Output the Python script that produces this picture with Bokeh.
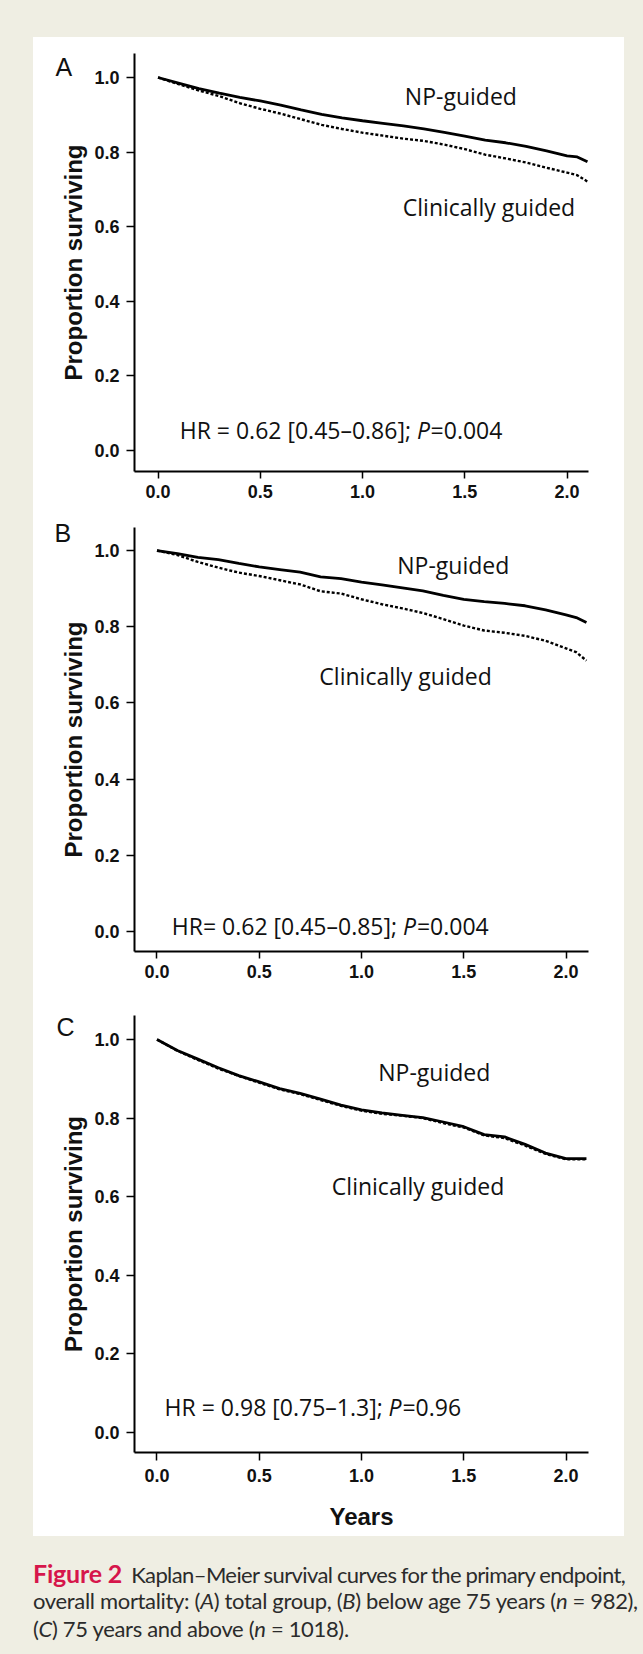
from bokeh.plotting import figure
from bokeh.layouts import column, row
from bokeh.models import Div, Label, FixedTicker, Range1d, Title
from bokeh.embed import file_html
from bokeh.resources import INLINE

# ---------------- data ----------------
years = [0.0, 0.1, 0.2, 0.3, 0.4, 0.5, 0.6, 0.7, 0.8, 0.9, 1.0, 1.1, 1.2,
         1.3, 1.4, 1.5, 1.6, 1.7, 1.8, 1.9, 2.0, 2.05, 2.1]

a_np = [1.000, 0.985, 0.970, 0.958, 0.947, 0.937, 0.926, 0.913, 0.901, 0.892, 0.884, 0.877,
        0.870, 0.862, 0.853, 0.843, 0.832, 0.825, 0.815, 0.803, 0.790, 0.787, 0.774]
a_clin = [1.000, 0.982, 0.965, 0.950, 0.931, 0.916, 0.903, 0.888, 0.873, 0.862, 0.852, 0.844,
          0.836, 0.830, 0.820, 0.808, 0.793, 0.783, 0.772, 0.758, 0.745, 0.738, 0.721]

b_np = [1.000, 0.992, 0.982, 0.976, 0.966, 0.957, 0.950, 0.943, 0.931, 0.926, 0.917, 0.910,
        0.902, 0.894, 0.882, 0.872, 0.866, 0.861, 0.855, 0.844, 0.831, 0.824, 0.811]
b_clin = [1.000, 0.988, 0.970, 0.955, 0.942, 0.933, 0.922, 0.911, 0.893, 0.887, 0.872, 0.859,
          0.848, 0.836, 0.820, 0.803, 0.790, 0.784, 0.776, 0.763, 0.743, 0.733, 0.711]

c_np = [1.000, 0.972, 0.950, 0.928, 0.908, 0.892, 0.875, 0.863, 0.848, 0.833, 0.821, 0.813,
        0.807, 0.801, 0.790, 0.778, 0.758, 0.752, 0.733, 0.711, 0.697, 0.697, 0.697]
c_clin = [1.000, 0.971, 0.948, 0.926, 0.907, 0.890, 0.873, 0.861, 0.846, 0.831, 0.819, 0.811,
          0.806, 0.800, 0.787, 0.776, 0.756, 0.749, 0.730, 0.709, 0.695, 0.695, 0.695]

x_ticks = [0.0, 0.5, 1.0, 1.5, 2.0]
x_tick_labels = ["0.0", "0.5", "1.0", "1.5", "2.0"]
y_ticks = [0.0, 0.2, 0.4, 0.6, 0.8, 1.0]
y_tick_labels = ["0.0", "0.2", "0.4", "0.6", "0.8", "1.0"]

group_labels = ["NP-guided", "Clinically guided"]
panel_letters = ["A", "B", "C"]
hr_main = ["HR = 0.62 [0.45\u20130.86];", "HR= 0.62 [0.45\u20130.85];", "HR = 0.98 [0.75\u20131.3];"]
hr_p = ["=0.004", "=0.004", "=0.96"]
y_label = "Proportion surviving"
x_label = "Years"

caption_title = "Figure 2"
caption_lines = [
    "Kaplan\u2013Meier survival curves for the primary endpoint,",
    "overall mortality: (<i>A</i>) total group, (<i>B</i>) below age 75 years (<i>n</i> = 982),",
    "(<i>C</i>) 75 years and above (<i>n</i> = 1018).",
]

BEIGE = "#EFEEE3"
ANN_FONT = "Open Sans"
AX_FONT = "Liberation Sans"
INK = "#111111"


def make_panel(height, borders, xr, yr, np_vals, clin_vals, idx, letter_off,
               np_xy, clin_xy, hr_y, hr_split, with_xlabel=False):
    left, right, top, bottom = borders
    p = figure(width=591, height=height, x_range=Range1d(*xr), y_range=Range1d(*yr),
               toolbar_location=None, output_backend="svg",
               min_border_left=left, min_border_right=right,
               min_border_top=top, min_border_bottom=bottom,
               background_fill_color="white", border_fill_color="white",
               outline_line_color=None)
    p.grid.visible = False

    p.line(years, clin_vals, line_color="black", line_width=2.4, line_dash="3 2")
    p.line(years, np_vals, line_color="black", line_width=2.8)

    p.xaxis.ticker = FixedTicker(ticks=x_ticks)
    p.xaxis.major_label_overrides = dict(zip(x_ticks, x_tick_labels))
    p.yaxis.ticker = FixedTicker(ticks=y_ticks)
    p.yaxis.major_label_overrides = dict(zip(y_ticks, y_tick_labels))

    for ax in (p.xaxis[0], p.yaxis[0]):
        ax.axis_line_width = 2
        ax.axis_line_color = "black"
        ax.major_tick_line_width = 1.5
        ax.major_tick_line_color = "black"
        ax.major_tick_in = 0
        ax.minor_tick_line_color = None
        ax.major_label_text_font = AX_FONT
        ax.major_label_text_font_style = "bold"
        ax.major_label_text_font_size = "18px"
        ax.major_label_text_color = INK
    p.yaxis.major_tick_out = 8
    p.xaxis.major_tick_out = 7
    p.yaxis.major_label_standoff = 7
    p.xaxis.major_label_standoff = 6

    p.yaxis.axis_label = y_label
    p.yaxis.axis_label_text_font = AX_FONT
    p.yaxis.axis_label_text_font_style = "bold"
    p.yaxis.axis_label_text_font_size = "24px"
    p.yaxis.axis_label_text_color = INK
    p.yaxis.axis_label_standoff = 4
    if with_xlabel:
        p.xaxis.major_tick_out = 8
        p.xaxis.major_label_standoff = 8
        p.xaxis.axis_label = x_label
        p.xaxis.axis_label_text_font = AX_FONT
        p.xaxis.axis_label_text_font_style = "bold"
        p.xaxis.axis_label_text_font_size = "24px"
        p.xaxis.axis_label_text_color = INK
        p.xaxis.axis_label_standoff = 18

    # panel letter, drawn as a title pulled down beside the frame
    p.title = Title(text=panel_letters[idx], align="left", offset=letter_off[0],
                    standoff=letter_off[1], vertical_align="bottom",
                    text_font=AX_FONT, text_font_size="25px", text_font_style="normal",
                    text_color=INK)

    p.add_layout(Label(x=np_xy[0], y=np_xy[1], text=group_labels[0],
                       text_font=ANN_FONT, text_font_size="23px", text_color=INK,
                       text_baseline="alphabetic", text_align="left"))
    p.add_layout(Label(x=clin_xy[0], y=clin_xy[1], text=group_labels[1],
                       text_font=ANN_FONT, text_font_size="23px", text_color=INK,
                       text_baseline="alphabetic", text_align="left"))
    semi_x, p_x, eq_x = hr_split
    p.add_layout(Label(x=semi_x, y=hr_y, text=hr_main[idx],
                       text_font=ANN_FONT, text_font_size="23px", text_color=INK,
                       text_baseline="alphabetic", text_align="right"))
    p.add_layout(Label(x=p_x, y=hr_y, text="P",
                       text_font=ANN_FONT, text_font_size="23px", text_color=INK,
                       text_font_style="italic",
                       text_baseline="alphabetic", text_align="left"))
    p.add_layout(Label(x=eq_x, y=hr_y, text=hr_p[idx],
                       text_font=ANN_FONT, text_font_size="23px", text_color=INK,
                       text_baseline="alphabetic", text_align="left"))
    return p


pA = make_panel(475, (100, 28, 16, 41), (-0.115, 2.105), (-0.0563, 1.0643),
                a_np, a_clin, 0, (-79, -54), (1.207, 0.951), (1.197, 0.653),
                0.054, (1.237, 1.266, 1.333))
pB = make_panel(485, (101, 36, 15, 46), (-0.110, 2.110), (-0.0525, 1.0604),
                b_np, b_clin, 1, (-80, -38), (1.175, 0.962), (0.794, 0.670),
                0.0136, (1.174, 1.203, 1.271))
pC = make_panel(539, (101, 26, 18, 84), (-0.110, 2.110), (-0.051, 1.061),
                c_np, c_clin, 2, (-78, -50), (1.082, 0.917), (0.855, 0.627),
                0.064, (1.104, 1.1325, 1.200), with_xlabel=True)

bg = {"background-color": BEIGE}
top_strip = Div(text="", width=643, height=37, margin=0, styles=bg)
left_strip = Div(text="", width=33, height=1499, margin=0, styles=bg)
right_strip = Div(text="", width=19, height=1499, margin=0, styles=bg)
cap_gap = Div(text="", width=643, height=23, margin=0, styles=bg)

base = ('height:28px; line-height:28px; padding-left:33px; font-family:Lato, sans-serif; '
        'font-size:22px; color:#2b2b2b; white-space:nowrap;')
line1 = ('<div style="%s letter-spacing:-0.6px; word-spacing:-0.5px;">'
         '<span style="color:#D6164B; font-weight:bold; font-size:25px; letter-spacing:-0.2px; '
         'word-spacing:0px;">%s</span>&nbsp;&nbsp;%s</div>') % (base, caption_title, caption_lines[0])
line2 = '<div style="%s letter-spacing:-0.33px;">%s</div>' % (base, caption_lines[1])
line3 = '<div style="%s letter-spacing:-0.33px;">%s</div>' % (base, caption_lines[2])
caption = Div(text=line1 + line2 + line3, width=643, height=95, margin=0, styles=bg)

layout = column(top_strip, row(left_strip, column(pA, pB, pC), right_strip), cap_gap, caption)

open("out.html", "w").write(file_html(layout, INLINE))
